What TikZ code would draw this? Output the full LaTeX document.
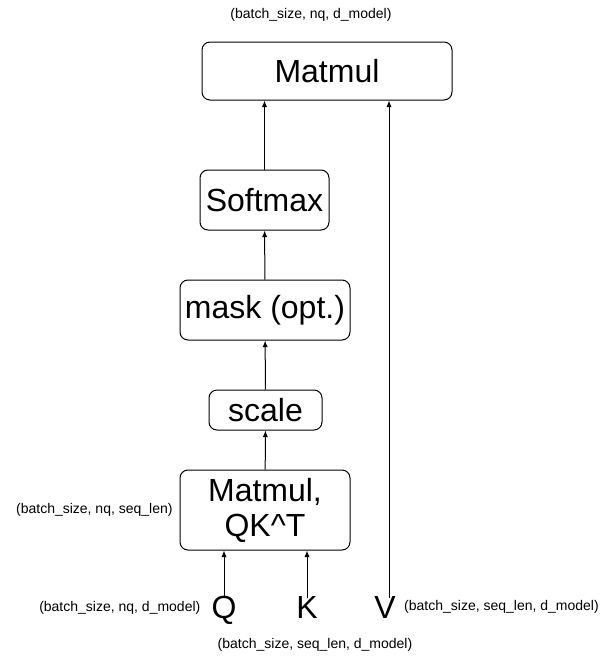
\documentclass[tikz,border=0pt]{standalone}
\usepackage{fontspec}
\setmainfont{Liberation Sans}
\usetikzlibrary{arrows.meta,positioning}
\tikzset{
  op/.style={draw,rounded corners=6pt,line width=0.75pt,align=center,
    font=\fontsize{24}{26.25}\selectfont,inner sep=0pt},
  var/.style={font=\fontsize{24}{26}\selectfont,inner sep=1pt,anchor=base},
  dims/.style={font=\fontsize{10.5}{12}\selectfont,inner sep=1pt},
  flow/.style={->,line width=0.75pt}
}

\begin{document}
\begin{tikzpicture}[>={Latex[length=5pt,width=4pt]},x=0.75pt,y=-0.75pt]
  \useasboundingbox (0,0) rectangle (603,661);
  % operations, bottom to top
  \node[op,minimum width=127.5pt,minimum height=60pt] (qk) at (265,510) {Matmul,\\QK\textasciicircum T};
  \node[op,minimum width=84.75pt,minimum height=30pt] (scale) at (265.5,410) {scale};
  \node[op,minimum width=127.5pt,minimum height=45pt] (mask) at (265,310) {mask (opt.)};
  \node[op,minimum width=96.75pt,minimum height=45pt] (soft) at (264.5,200) {Softmax};
  \node[op,minimum width=187.5pt,minimum height=43.5pt] (top) at (327,71) {Matmul};
  % inputs
  \node[var] (Q) at (224,618) {Q};
  \node[var] (K) at (307,618) {K};
  \node[var] (V) at (385,618) {V};
  % shapes
  \node[dims] at (311,15) {(batch\_size, nq, d\_model)};
  \node[dims,left=4pt of qk] {(batch\_size, nq, seq\_len)};
  \node[dims,left=6pt of Q.west,anchor=east] at ([yshift=-1pt]Q.west |- K.center) {(batch\_size, nq, d\_model)};
  \node[dims,right=4pt of V] {(batch\_size, seq\_len, d\_model)};
  \node[dims] at (315,645) {(batch\_size, seq\_len, d\_model)};
  % connectors
  \draw[flow] ([yshift=-3pt]K.north -| Q) -- (Q |- qk.south);
  \draw[flow] ([yshift=-3pt]K.north) -- (K |- qk.south);
  \draw[flow] (qk) -- (scale);
  \draw[flow] (scale) -- (mask);
  \draw[flow] (mask) -- (soft);
  \draw[flow] (soft.north) -- (soft.north |- top.south);
  \draw[flow] ([xshift=3pt,yshift=-3pt]V.north) -- ([xshift=3pt]V.north |- top.south);
\end{tikzpicture}
\end{document}
